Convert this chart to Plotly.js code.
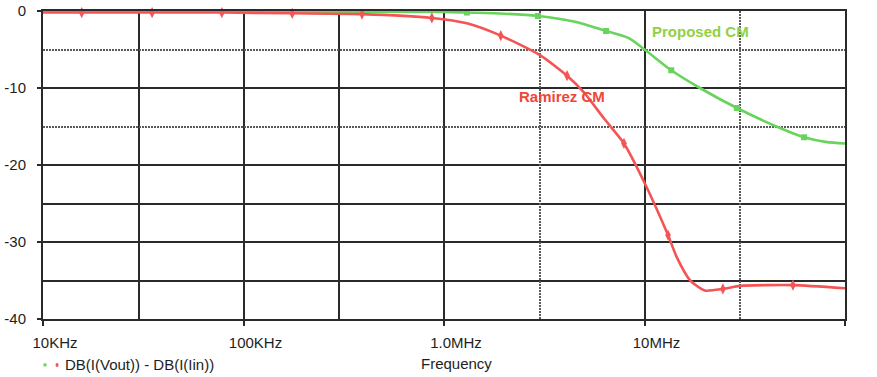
<!DOCTYPE html>
<html><head><meta charset="utf-8">
<script src="https://cdn.plot.ly/plotly-3.0.1.min.js"></script>
<style>html,body{margin:0;padding:0;background:#fff}#chart{width:877px;height:377px}</style>
</head><body><div id="chart"></div>
<script>
// Proposed CM (green) curve
const proposedFreq = [1e4, 1e5, 3e5, 1e6, 1.3e6, 2e6, 2.94e6, 4.5e6, 6.43e6, 8.3e6, 1e7, 1.36e7, 1.89e7, 2.89e7, 4.74e7, 6.25e7, 8e7, 1e8];
const proposedDb   = [-0.05, -0.05, -0.08, -0.12, -0.2, -0.35, -0.65, -1.4, -2.6, -3.5, -5.0, -7.7, -10.0, -12.6, -15.2, -16.4, -17.0, -17.2];
const proposedMarkFreq = [1.3e6, 2.94e6, 6.43e6, 1.36e7, 2.89e7, 6.25e7];
const proposedMarkDb   = [-0.2, -0.65, -2.6, -7.7, -12.6, -16.4];

// Ramirez CM (red) curve
const ramirezFreq = [1e4, 1.56e4, 3.5e4, 7.8e4, 1.75e5, 3.9e5, 8.7e5, 1.3e6, 1.92e6, 3e6, 4.11e6, 5e6, 6.3e6, 7.9e6, 1e7, 1.31e7, 1.45e7, 1.69e7, 2e7, 2.46e7, 3e7, 5.5e7, 1e8];
const ramirezDb   = [-0.2, -0.2, -0.2, -0.2, -0.3, -0.4, -0.9, -1.6, -3.2, -5.7, -8.4, -10.6, -14.0, -17.2, -22.3, -29.1, -32.0, -35.0, -36.3, -36.1, -35.7, -35.6, -36.0];
const ramirezMarkFreq = [1.56e4, 3.5e4, 7.8e4, 1.75e5, 3.9e5, 8.7e5, 1.92e6, 4.11e6, 7.9e6, 1.31e7, 2.46e7, 5.5e7];
const ramirezMarkDb   = [-0.2, -0.2, -0.2, -0.3, -0.4, -0.9, -3.2, -8.4, -17.2, -29.1, -36.1, -35.6];

// Axes
const xTickVals = [1e4, 1e5, 1e6, 1e7, 1e8];
const xTickText = ['10KHz', '100KHz', '1.0MHz', '10MHz', '100MHz\u00a0\u00a0\u00a0\u00a0\u00a0\u00a0\u00a0'];
const yTickVals = [0, -10, -20, -30, -40];
const yTickText = ['0', '-10', '-20', '-30', '-40'];
const xSolidMinor = [3e4, 3e5];
const xDottedGrid = [3e6, 3e7];
const ySolidMinor = [-25, -35];
const yDottedGrid = [-5, -15];

const GREEN = 'rgb(104,212,92)';
const RED = 'rgb(244,84,84)';
const FONT = 'Liberation Sans, Arial, sans-serif';
const GRID = '#2a2a2a';
const TXT = '#1e1e1e';

const traces = [
  {x: proposedFreq, y: proposedDb, mode: 'lines', line: {color: GREEN, width: 2.6, shape: 'spline', smoothing: 0.9}, hoverinfo: 'skip'},
  {x: proposedMarkFreq, y: proposedMarkDb, mode: 'markers', marker: {symbol: 'square', size: 6, color: GREEN}, cliponaxis: false},
  {x: ramirezFreq, y: ramirezDb, mode: 'lines', line: {color: RED, width: 2.6, shape: 'spline', smoothing: 0.6}, hoverinfo: 'skip'},
  {x: ramirezMarkFreq, y: ramirezMarkDb, mode: 'markers', marker: {symbol: 'diamond-tall', size: 8, color: RED}, cliponaxis: false},
  {x: [], y: [], xaxis: 'x2', yaxis: 'y2', mode: 'lines', hoverinfo: 'skip'}
];

const layout = {
  width: 877, height: 377,
  margin: {l: 43, r: 32, t: 11, b: 58},
  paper_bgcolor: '#fff', plot_bgcolor: '#fff',
  showlegend: false,
  font: {family: FONT, size: 15, color: TXT},
  xaxis: {
    type: 'log', range: [4, 8], tickmode: 'array', tickvals: xTickVals, ticktext: xTickText,
    ticks: 'outside', ticklen: 5, tickwidth: 2, tickcolor: GRID,
    showgrid: true, gridcolor: GRID, gridwidth: 2,
    minor: {tickmode: 'array', tickvals: xSolidMinor, showgrid: true, gridcolor: GRID, gridwidth: 2, ticks: ''},
    showline: true, linecolor: GRID, linewidth: 2, mirror: true, zeroline: false,
    ticklabelshift: 12, ticklabelstandoff: 4,
    tickfont: {family: FONT, size: 15, color: TXT}
  },
  yaxis: {
    range: [-40, 0], tickmode: 'array', tickvals: yTickVals, ticktext: yTickText,
    ticks: 'outside', ticklen: 4, tickwidth: 2, tickcolor: GRID,
    showgrid: true, gridcolor: GRID, gridwidth: 2,
    minor: {tickmode: 'array', tickvals: ySolidMinor, showgrid: true, gridcolor: GRID, gridwidth: 2, ticks: ''},
    showline: true, linecolor: GRID, linewidth: 2, mirror: true, zeroline: false,
    ticklabelstandoff: 8,
    tickfont: {family: FONT, size: 15, color: TXT}
  },
  xaxis2: {
    type: 'log', range: [4, 8], overlaying: 'x', anchor: 'y2', side: 'bottom',
    tickmode: 'array', tickvals: xDottedGrid, showticklabels: false, ticks: '',
    showgrid: true, gridcolor: '#5a5a5a', gridwidth: 2, griddash: '2px,1px', showline: false, zeroline: false
  },
  yaxis2: {
    range: [-40, 0], overlaying: 'y', anchor: 'x2', side: 'left',
    tickmode: 'array', tickvals: yDottedGrid, showticklabels: false, ticks: '',
    showgrid: true, gridcolor: '#5a5a5a', gridwidth: 2, griddash: '2px,1px', showline: false, zeroline: false
  },
  annotations: [
    {text: '<b>Proposed CM</b>', xref: 'paper', yref: 'paper', x: 0.757, y: 0.932, xanchor: 'left', yanchor: 'middle', showarrow: false, font: {family: FONT, size: 15, color: 'rgb(145,208,68)'}},
    {text: '<b>Ramirez CM</b>', xref: 'paper', yref: 'paper', x: 0.591, y: 0.721, xanchor: 'left', yanchor: 'middle', showarrow: false, font: {family: FONT, size: 15, color: 'rgb(240,70,55)'}},
    {text: 'Frequency', xref: 'paper', yref: 'paper', x: 0.515, y: -0.143, xanchor: 'center', yanchor: 'middle', showarrow: false, font: {family: FONT, size: 15, color: TXT}},
    {text: 'DB(I(Vout)) - DB(I(Iin))', xref: 'paper', yref: 'paper', x: 0.025, y: -0.149, xanchor: 'left', yanchor: 'middle', showarrow: false, font: {family: FONT, size: 15, color: TXT}}
  ],
  shapes: [
    {type: 'rect', xref: 'paper', yref: 'paper', xsizemode: 'pixel', ysizemode: 'pixel', xanchor: 0.0025, yanchor: -0.149, x0: -1.5, x1: 1.5, y0: -1.5, y1: 1.5, fillcolor: GREEN, line: {width: 0}},
    {type: 'circle', xref: 'paper', yref: 'paper', xsizemode: 'pixel', ysizemode: 'pixel', xanchor: 0.0175, yanchor: -0.149, x0: -1.5, x1: 1.5, y0: -2, y1: 2, fillcolor: RED, line: {width: 0}}
  ]
};

Plotly.newPlot('chart', traces, layout, {displayModeBar: false, staticPlot: true});
</script>
</body></html>
